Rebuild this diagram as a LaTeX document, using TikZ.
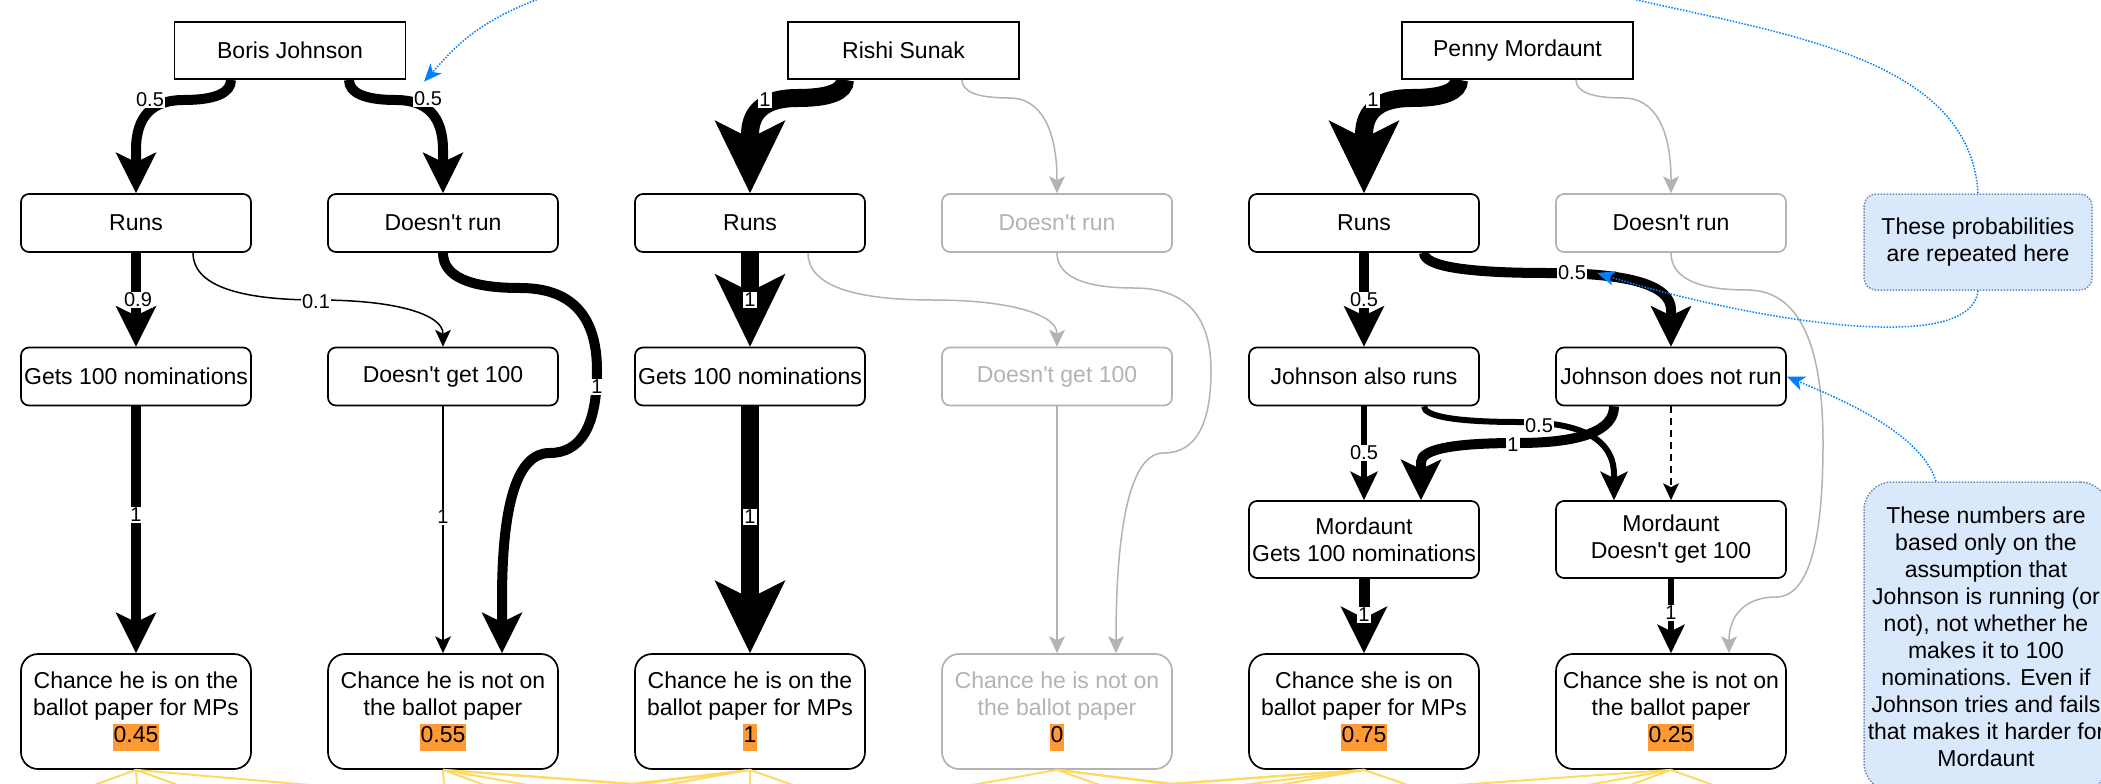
\documentclass[tikz,border=0pt]{standalone}
\usepackage{fontspec}
\newfontfamily\dfont{Liberation Sans}
\usetikzlibrary{arrows.meta,calc}
\definecolor{gr}{HTML}{B3B3B3}
\definecolor{hl}{HTML}{FF9933}
\definecolor{bl}{HTML}{007FFF}
\definecolor{nf}{HTML}{DAE8FC}
\definecolor{nb}{HTML}{6C8EBF}
\definecolor{yl}{HTML}{FFD966}
\newcommand{\hlt}[1]{{\setlength{\fboxsep}{0pt}\colorbox{hl}{\color{black}\strut\hspace{1pt}#1\hspace{1pt}}}}
\tikzset{
  txt/.style={font={\dfont\fontsize{23}{27}\selectfont}, align=center, text=black},
  topbox/.style={txt, draw, line width=1.7pt, fill=white, minimum width=231pt, minimum height=57pt, inner sep=1pt},
  box/.style={txt, draw, line width=1.7pt, fill=white, rounded corners=8pt, minimum width=230pt, minimum height=58pt, inner sep=1pt},
  gbox/.style={box, draw=gr, text=gr},
  tallbox/.style={box, minimum height=77pt},
  cbox/.style={box, rounded corners=17pt, minimum height=115pt},
  gcbox/.style={cbox, draw=gr, text=gr},
  lbl/.style={font={\dfont\fontsize{20}{22}\selectfont}, fill=white, inner sep=1pt},
  w18/.style={line width=18pt, -{Stealth[length=73pt,width=71pt,inset=18pt,line width=0pt]}},
  w12/.style={line width=11pt, -{Stealth[length=47pt,width=47pt,inset=12pt,line width=0pt]}},
  w10/.style={line width=10pt, -{Stealth[length=41pt,width=41pt,inset=10pt,line width=0pt]}},
  w6/.style={line width=6pt, -{Stealth[length=29pt,width=28pt,inset=7pt,line width=0pt]}},
  w1/.style={line width=1.5pt, -{Stealth[length=17pt,width=16pt,inset=4pt,line width=0pt]}},
  gw1/.style={w1, draw=gr},
  bluel/.style={draw=bl, line width=1.5pt, dash pattern=on 1.5pt off 1.5pt, -{Stealth[length=18pt,width=15pt,inset=5pt,line width=0pt]}},
  ylw/.style={draw=yl, line width=2pt},
  note/.style={txt, draw=nb, fill=nf, line width=1.5pt, dash pattern=on 1.5pt off 1.5pt, inner sep=2pt},
}
\begin{document}
\begin{tikzpicture}[x=1pt,y=-1pt]
\useasboundingbox (0,0) rectangle (2101,784);
\clip (0,0) rectangle (2101,784);
\fill[white] (0,0) rectangle (2101,784);
% top row
\node[topbox] (bj) at (290,50.5) {Boris Johnson};
\node[topbox] (rs) at (903.5,50.5) {Rishi Sunak};
\node[topbox] (pm) at (1517.5,50.5) {Penny Mordaunt};
% row 2
\node[box] (b_run) at (136,223) {Runs};
\node[box] (b_dr) at (443,223) {Doesn't run};
\node[box] (s_run) at (750,223) {Runs};
\node[gbox] (s_dr) at (1057,223) {Doesn't run};
\node[box] (m_run) at (1364,223) {Runs};
\node[box, draw=gr] (m_dr) at (1671,223) {Doesn't run};
% row 3
\node[box] (b_get) at (136,376.5) {Gets 100 nominations};
\node[box] (b_dget) at (443,376.5) {Doesn't get 100};
\node[box] (s_get) at (750,376.5) {Gets 100 nominations};
\node[gbox] (s_dget) at (1057,376.5) {Doesn't get 100};
\node[box] (m_jr) at (1364,376.5) {Johnson also runs};
\node[box] (m_jnr) at (1671,376.5) {Johnson does not run};
% row 4
\node[tallbox] (m_mg) at (1364,539.5) {Mordaunt\\Gets 100 nominations};
\node[tallbox] (m_md) at (1671,539.5) {Mordaunt\\Doesn't get 100};
% row 5
\node[cbox] (b_on) at (136,711.5) {Chance he is on the\\ballot paper for MPs\\\hlt{0.45}};
\node[cbox] (b_off) at (443,711.5) {Chance he is not on\\the ballot paper\\\hlt{0.55}};
\node[cbox] (s_on) at (750,711.5) {Chance he is on the\\ballot paper for MPs\\\hlt{1}};
\node[gcbox] (s_off) at (1057,711.5) {Chance he is not on\\the ballot paper\\\hlt{0}};
\node[cbox] (m_on) at (1364,711.5) {Chance she is on\\ballot paper for MPs\\\hlt{0.75}};
\node[cbox] (m_off) at (1671,711.5) {Chance she is not on\\the ballot paper\\\hlt{0.25}};
% notes
\node[note, rounded corners=12pt, minimum width=228pt, minimum height=96pt] (n1) at (1978,242) {These probabilities\\are repeated here};
\node[note, rounded corners=28pt, minimum width=244pt, minimum height=309pt] (n2) at (1986,636.5) {These numbers are\\based only on the\\assumption that\\Johnson is running (or\\not), not whether he\\makes it to 100\\nominations. Even if\\Johnson tries and fails\\that makes it harder for\\Mordaunt};
% yellow lines
\foreach \n/\x in {b_on/97, b_on/137, b_on/175, b_on/298,
  b_off/444, b_off/482, b_off/522, b_off/628, b_off/636,
  s_on/630, s_on/640, s_on/670, s_on/750, s_on/790,
  s_off/978, s_off/1097, s_off/1168, s_off/1174,
  m_on/1168, m_on/1174, m_on/1251, m_on/1285, m_on/1405,
  m_off/1472, m_off/1593, m_off/1633, m_off/1710}
  \draw[ylw] (\n.south) -- ($(\n.south)!2!(\x,784)$);
% Boris edges
\draw[w10] ([xshift=-59pt]bj.south) .. controls (231,93) and (215.2,100) .. (183.5,100) .. controls (151.8,100) and (136,116.7) .. (136,150) -- (b_run.north);
\draw[w10] ([xshift=59pt]bj.south) .. controls (349,93) and (364.7,100) .. (396,100) .. controls (427.3,100) and (443,116.7) .. (443,150) -- (b_dr.north);
\draw[w10] (b_run.south) -- (b_get.north);
\draw[w1] ([xshift=57pt]b_run.south) .. controls (193,284) and (234.7,300) .. (318,300) .. controls (401.3,300) and (443,316) .. (b_dget.north);
\draw[w10] (b_dr.south) .. controls (443,276) and (468.7,288) .. (520,288) .. controls (571.3,288) and (597,315.5) .. (597,370.5) .. controls (597,425.5) and (581.2,453) .. (549.5,453) .. controls (517.8,453) and (502,502) .. (502,600) -- ([xshift=59pt]b_off.north);
\draw[w10] (b_get.south) -- (b_on.north);
\draw[w1] (b_dget.south) -- (b_off.north);
% Sunak edges
\draw[w18] ([xshift=-58.5pt]rs.south) .. controls (845,91.7) and (829.2,98) .. (797.5,98) .. controls (765.8,98) and (750,110.3) .. (750,135) -- (s_run.north);
\draw[gw1] ([xshift=58.5pt]rs.south) .. controls (962,91.7) and (977.2,98) .. (1009.5,98) .. controls (1041.2,98) and (1057,130) .. (s_dr.north);
\draw[w18] (s_run.south) -- (s_get.north);
\draw[gw1] ([xshift=58pt]s_run.south) .. controls (808,284) and (849.5,300) .. (932.5,300) .. controls (1015.5,300) and (1057,316) .. (s_dget.north);
\draw[gw1] (s_dr.south) .. controls (1057,276) and (1082.7,288) .. (1134,288) .. controls (1185.3,288) and (1211,315.5) .. (1211,370.5) .. controls (1211,425.5) and (1195.2,453) .. (1163.5,453) .. controls (1131.8,453) and (1116,520) .. ([xshift=59pt]s_off.north);
\draw[w18] (s_get.south) -- (s_on.north);
\draw[gw1] (s_dget.south) -- (s_off.north);
% Mordaunt edges
\draw[w18] ([xshift=-58.5pt]pm.south) .. controls (1459,91.7) and (1443.2,98) .. (1411.5,98) .. controls (1379.8,98) and (1364,110.3) .. (1364,135) -- (m_run.north);
\draw[gw1] ([xshift=58.5pt]pm.south) .. controls (1576,91.7) and (1591.2,98) .. (1623.5,98) .. controls (1655.2,98) and (1671,130) .. (m_dr.north);
\draw[w10] (m_run.south) -- (m_jr.north);
\draw[w10] ([xshift=60pt]m_run.south) .. controls (1424,266) and (1465.2,273) .. (1547.5,273) .. controls (1629.8,273) and (1671,285.3) .. (1671,310) -- (m_jnr.north);
\draw[gw1] (m_dr.south) .. controls (1671,277.3) and (1696.3,290) .. (1747,290) .. controls (1797.7,290) and (1823,341.2) .. (1823,443.5) .. controls (1823,545.8) and (1807.3,597) .. (1776,597) .. controls (1744.7,597) and (1729,616) .. ([xshift=58pt]m_off.north);
\draw[w6] (m_jr.south) -- (m_mg.north);
\draw[w6] ([xshift=60pt]m_jr.south) .. controls (1424,416.3) and (1455.7,422) .. (1519,422) .. controls (1582.3,422) and (1614,439.7) .. (1614,475) -- ([xshift=-57pt]m_md.north);
\draw[w10] ([xshift=-57pt]m_jnr.south) .. controls (1614,430.3) and (1581.8,443) .. (1517.5,443) .. controls (1453.2,443) and (1421,449.3) .. (1421,462) -- ([xshift=57pt]m_mg.north);
\draw[w1, dash pattern=on 7pt off 5pt] (m_jnr.south) -- (m_md.north);
\draw[w12] (m_mg.south) -- (m_on.north);
\draw[w6] (m_md.south) -- (m_off.north);
% edge labels
\node[lbl] (l1) at (150,100) {0.5};
\node[lbl] (l2) at (428,99) {0.5};
\node[lbl] (l3) at (138,300) {0.9};
\node[lbl] (l4) at (316,302) {0.1};
\node[lbl] (l5) at (597,387) {1};
\node[lbl] (l6) at (136,515) {1};
\node[lbl] (l7) at (443,517) {1};
\node[lbl] (l8) at (765,100) {1};
\node[lbl] (l9) at (750,300) {1};
\node[lbl] (l10) at (750,517) {1};
\node[lbl] (l11) at (1373,100) {1};
\node[lbl] (l12) at (1364,300) {0.5};
\node[lbl] (l13) at (1572,273) {0.5};
\node[lbl] (l14) at (1364,453) {0.5};
\node[lbl] (l15) at (1539,426) {0.5};
\node[lbl] (l16) at (1513,445) {1};
\node[lbl] (l17) at (1364,615) {1};
\node[lbl] (l18) at (1671,613) {1};
% blue dotted pointers
\draw[bluel] (n1.north) .. controls (1970,60) and (1790,35) .. (1637,0) .. controls (1400,-70) and (750,-80) .. (536,0) .. controls (472,24) and (449,54) .. ([xshift=-4pt,yshift=9pt]l2.north);
\draw[bluel] (n1.south) .. controls (1970,360) and (1736,316) .. ([xshift=10pt]l13.east);
\draw[bluel] ([xshift=-50pt]n2.north) .. controls (1920,430) and (1830,395) .. (m_jnr.east);
\end{tikzpicture}
\end{document}
